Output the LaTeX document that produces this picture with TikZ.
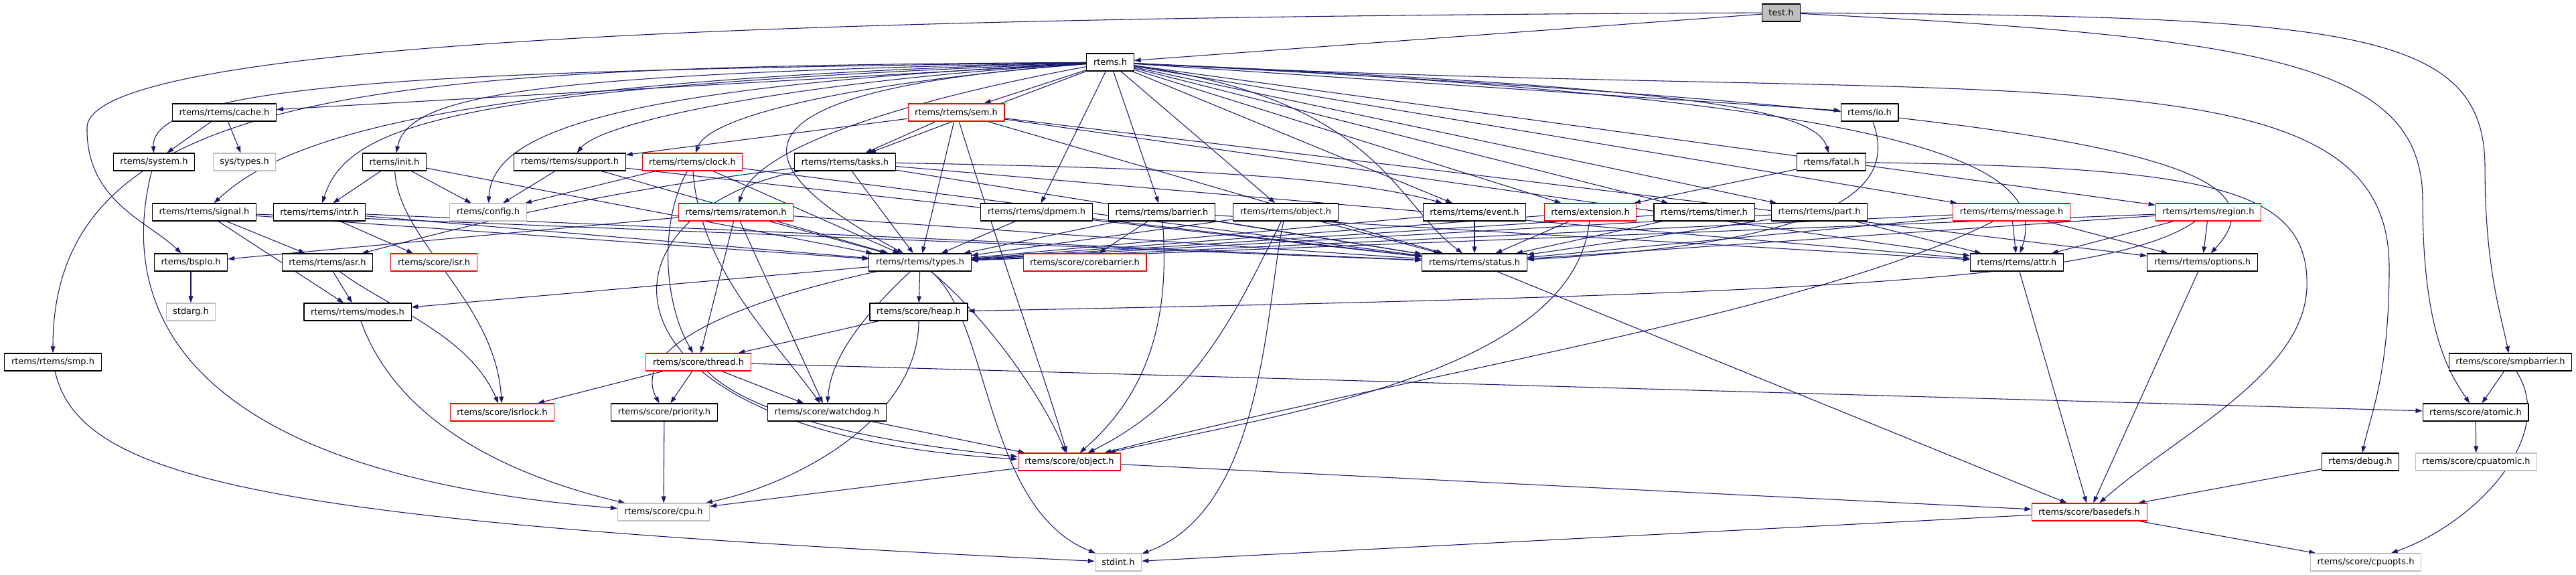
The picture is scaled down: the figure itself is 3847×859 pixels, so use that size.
\documentclass[tikz,border=0pt]{standalone}
\usepackage{fontspec}
\setmainfont{DejaVu Sans}
\usetikzlibrary{arrows.meta}
\definecolor{edgeblue}{HTML}{191970}
\definecolor{nodegray}{HTML}{BFBFBF}
\definecolor{nodered}{HTML}{FF0000}
\pgfdeclarelayer{bg}
\pgfsetlayers{bg,main}
\tikzset{
  box/.style={draw=black, fill=white, line width=0.8pt, rectangle, inner xsep=7.6pt, inner ysep=0pt, minimum height=19.5pt},
  redbox/.style={box, draw=nodered},
  graybox/.style={box, draw=nodegray},
  edge/.style={->, draw=edgeblue, line width=0.8pt}
}
\begin{document}
\begin{tikzpicture}[x=0.75pt, y=-0.75pt, font=\fontsize{9.7}{11}\selectfont, line join=round, >={Triangle[length=7.5pt,width=5pt]}]
	\def\rA{19}\def\rB{93}\def\rC{168}\def\rD{242}\def\rE{317}\def\rF{392}
	\def\rG{466}\def\rH{541}\def\rI{616}\def\rJ{690}\def\rK{765}\def\rL{840}
	\useasboundingbox (0,0) rectangle (3847,859);
	% top
	\node[box, fill=nodegray] (test) at (2660,\rA) {test.h};
	\node[box] (rtems) at (1658,\rB) {rtems.h};
	% rows of headers
	\node[box] (cache) at (335,\rC) {rtems/rtems/cache.h};
	\node[redbox] (sem) at (1428,\rC) {rtems/rtems/sem.h};
	\node[box] (io) at (2792,\rC) {rtems/io.h};
	\node[box] (systemh) at (230,\rD) {rtems/system.h};
	\node[graybox] (systypes) at (365,\rD) {sys/types.h};
	\node[box] (init) at (589,\rD) {rtems/init.h};
	\node[box] (support) at (851,\rD) {rtems/rtems/support.h};
	\node[redbox] (clock) at (1034,\rD) {rtems/rtems/clock.h};
	\node[box] (tasks) at (1262,\rD) {rtems/rtems/tasks.h};
	\node[box] (fatal) at (2735,\rD) {rtems/fatal.h};
	\node[box] (signal) at (305,\rE) {rtems/rtems/signal.h};
	\node[box] (intr) at (477,\rE) {rtems/rtems/intr.h};
	\node[graybox] (config) at (729,\rE) {rtems/config.h};
	\node[redbox] (ratemon) at (1099,\rE) {rtems/rtems/ratemon.h};
	\node[box] (dpmem) at (1548,\rE) {rtems/rtems/dpmem.h};
	\node[box] (barrier) at (1735,\rE) {rtems/rtems/barrier.h};
	\node[box] (robject) at (1920,\rE) {rtems/rtems/object.h};
	\node[box] (event) at (2202,\rE) {rtems/rtems/event.h};
	\node[redbox] (extension) at (2375,\rE) {rtems/extension.h};
	\node[box] (timer) at (2545,\rE) {rtems/rtems/timer.h};
	\node[box] (part) at (2717,\rE) {rtems/rtems/part.h};
	\node[redbox] (message) at (3004,\rE) {rtems/rtems/message.h};
	\node[redbox] (region) at (3298,\rE) {rtems/rtems/region.h};
	\node[box] (bspio) at (285,\rF) {rtems/bspIo.h};
	\node[box] (asr) at (489,\rF) {rtems/rtems/asr.h};
	\node[redbox] (isr) at (648,\rF) {rtems/score/isr.h};
	\node[box] (types) at (1374,\rF) {rtems/rtems/types.h};
	\node[redbox] (corebarrier) at (1620,\rF) {rtems/score/corebarrier.h};
	\node[box] (status) at (2202,\rF) {rtems/rtems/status.h};
	\node[box] (attr) at (3012,\rF) {rtems/rtems/attr.h};
	\node[box] (options) at (3289,\rF) {rtems/rtems/options.h};
	\node[graybox] (stdarg) at (285,\rG) {stdarg.h};
	\node[box] (modes) at (534,\rG) {rtems/rtems/modes.h};
	\node[box] (heap) at (1372,\rG) {rtems/score/heap.h};
	\node[box] (smp) at (79,\rH) {rtems/rtems/smp.h};
	\node[redbox] (thread) at (1043,\rH) {rtems/score/thread.h};
	\node[box] (smpbarrier) at (3749,\rH) {rtems/score/smpbarrier.h};
	\node[redbox] (isrlock) at (750,\rI) {rtems/score/isrlock.h};
	\node[box] (priority) at (992,\rI) {rtems/score/priority.h};
	\node[box] (watchdog) at (1235,\rI) {rtems/score/watchdog.h};
	\node[box] (atomic) at (3697,\rI) {rtems/score/atomic.h};
	\node[redbox] (sobject) at (1597,\rJ) {rtems/score/object.h};
	\node[box] (debug) at (3525,\rJ) {rtems/debug.h};
	\node[graybox] (cpuatomic) at (3698,\rJ) {rtems/score/cpuatomic.h};
	\node[graybox] (cpu) at (991,\rK) {rtems/score/cpu.h};
	\node[redbox] (basedefs) at (3120,\rK) {rtems/score/basedefs.h};
	\node[graybox] (stdint) at (1670,\rL) {stdint.h};
	\node[graybox] (cpuops) at (3533,\rL) {rtems/score/cpuopts.h};
	\begin{pgfonlayer}{bg}
	% test.h
	\draw[edge] (test) -- (rtems);
	\draw[edge] (test) .. controls (1200,25) and (135,60) .. (130,190) .. controls (128,300) and (220,330) .. (bspio);
	\draw[edge] (test) .. controls (3400,55) and (3618,100) .. (3618,300) .. controls (3618,500) and (3660,560) .. (atomic);
	\draw[edge] (test) .. controls (3500,25) and (3711,40) .. (3711,250) .. controls (3711,400) and (3735,470) .. (smpbarrier);
	% rtems.h
	\foreach \t in {cache,sem,tasks,dpmem,barrier,robject,event,extension,timer,part,message,region,io}
		\draw[edge] (rtems) -- (\t);
	\draw[edge] (rtems) .. controls (1000,140) and (1150,270) .. (types);
	\draw[edge] (rtems) .. controls (2060,150) and (2080,300) .. (status);
	\draw[edge] (rtems) .. controls (700,105) and (225,120) .. (systemh);
	\draw[edge] (rtems) .. controls (600,100) and (79,120) .. (smp);
	\draw[edge] (rtems) .. controls (800,110) and (610,140) .. (init);
	\draw[edge] (rtems) .. controls (650,120) and (420,210) .. (signal);
	\draw[edge] (rtems) .. controls (700,130) and (520,180) .. (intr);
	\draw[edge] (rtems) .. controls (900,130) and (735,200) .. (config);
	\draw[edge] (rtems) .. controls (1200,120) and (900,180) .. (support);
	\draw[edge] (rtems) .. controls (1300,120) and (1060,170) .. (clock);
	\draw[edge] (rtems) .. controls (1350,150) and (1130,220) .. (ratemon);
	\draw[edge] (rtems) .. controls (2500,130) and (2710,160) .. (fatal);
	\draw[edge] (rtems) .. controls (2900,150) and (3060,250) .. (attr);
	\draw[edge] (rtems) .. controls (3200,170) and (3420,250) .. (options);
	\draw[edge] (rtems) .. controls (3000,160) and (3568,60) .. (3568,400) .. controls (3568,560) and (3540,620) .. (debug);
	% rtems/rtems headers
	\draw[edge] (cache) -- (systemh);
	\draw[edge] (cache) -- (systypes);
	\foreach \t in {support,tasks,types,status,attr,options}
		\draw[edge] (sem) -- (\t);
	\draw[edge] (sem) .. controls (1500,400) and (1560,560) .. (sobject);
	\foreach \t in {intr,config,types}
		\draw[edge] (init) -- (\t);
	\draw[edge] (init) .. controls (595,360) and (740,450) .. (isrlock);
	\foreach \t in {config,types,status}
		\draw[edge] (support) -- (\t);
	\foreach \t in {config,types,status}
		\draw[edge] (clock) -- (\t);
	\draw[edge] (clock) .. controls (985,330) and (990,450) .. (thread);
	\draw[edge] (clock) .. controls (1045,400) and (1150,500) .. (watchdog);
	\foreach \t in {types,status,attr}
		\draw[edge] (tasks) -- (\t);
	\draw[edge] (tasks) .. controls (1700,250) and (2000,260) .. (event);
	\draw[edge] (tasks) .. controls (950,280) and (800,310) .. (asr);
	\draw[edge] (tasks) .. controls (870,320) and (870,650) .. (sobject);
	\draw[edge] (fatal) -- (extension);
	\draw[edge] (fatal) .. controls (3300,250) and (3450,280) .. (3445,430) .. controls (3440,560) and (3250,650) .. (basedefs);
	\draw[edge] (io) .. controls (2825,260) and (2800,360) .. (status);
	\foreach \t in {asr,modes,types,status}
		\draw[edge] (signal) -- (\t);
	\foreach \t in {isr,types,status}
		\draw[edge] (intr) -- (\t);
	\foreach \t in {bspio,types,status,thread,watchdog}
		\draw[edge] (ratemon) -- (\t);
	\foreach \t in {types,status}
		\draw[edge] (dpmem) -- (\t);
	\foreach \t in {corebarrier,types,status,attr}
		\draw[edge] (barrier) -- (\t);
	\draw[edge] (barrier) .. controls (1750,500) and (1700,600) .. (sobject);
	\foreach \t in {types,status}
		\draw[edge] (robject) -- (\t);
	\draw[edge] (robject) .. controls (1840,480) and (1780,600) .. (sobject);
	\draw[edge] (robject) .. controls (1890,450) and (1890,760) .. (stdint);
	\foreach \t in {types,status}
		\draw[edge] (event) -- (\t);
	\foreach \t in {types,status}
		\draw[edge] (extension) -- (\t);
	\draw[edge] (extension) .. controls (2350,560) and (1900,620) .. (sobject);
	\foreach \t in {types,status}
		\draw[edge] (timer) -- (\t);
	\foreach \t in {types,status,attr}
		\draw[edge] (part) -- (\t);
	\foreach \t in {types,status,attr,options}
		\draw[edge] (message) -- (\t);
	\draw[edge] (message) .. controls (2700,470) and (2100,560) .. (sobject);
	\foreach \t in {types,status,attr,options}
		\draw[edge] (region) -- (\t);
	\draw[edge] (region) .. controls (3150,420) and (2700,440) .. (heap);
	% lower rows
	\draw[edge] (bspio) -- (stdarg);
	\draw[edge] (asr) -- (modes);
	\draw[edge] (asr) .. controls (580,460) and (700,500) .. (isrlock);
	\draw[edge] (types) -- (modes);
	\draw[edge] (types) -- (heap);
	\draw[edge] (types) .. controls (1100,450) and (940,520) .. (priority);
	\draw[edge] (types) .. controls (1280,480) and (1240,540) .. (watchdog);
	\draw[edge] (types) .. controls (1480,480) and (1560,600) .. (sobject);
	\draw[edge] (types) .. controls (1480,480) and (1470,760) .. (stdint);
	\foreach \t in {status,attr,options}
		\draw[edge] (\t) -- (basedefs);
	\draw[edge] (systemh) .. controls (190,400) and (190,700) .. (cpu);
	\draw[edge] (modes) .. controls (600,650) and (800,720) .. (cpu);
	\draw[edge] (heap) -- (thread);
	\draw[edge] (heap) .. controls (1372,620) and (1200,720) .. (cpu);
	\draw[edge] (smp) .. controls (120,720) and (400,780) .. (stdint);
	\foreach \t in {isrlock,priority,watchdog,atomic}
		\draw[edge] (thread) -- (\t);
	\draw[edge] (thread) .. controls (1120,620) and (1300,660) .. (sobject);
	\draw[edge] (smpbarrier) -- (atomic);
	\draw[edge] (smpbarrier) .. controls (3820,650) and (3700,780) .. (cpuops);
	\draw[edge] (priority) -- (cpu);
	\draw[edge] (watchdog) -- (sobject);
	\draw[edge] (atomic) -- (cpuatomic);
	\draw[edge] (sobject) -- (cpu);
	\draw[edge] (sobject) -- (basedefs);
	\draw[edge] (debug) -- (basedefs);
	\draw[edge] (basedefs) -- (stdint);
	\draw[edge] (basedefs) -- (cpuops);
	\end{pgfonlayer}
\end{tikzpicture}
\end{document}
